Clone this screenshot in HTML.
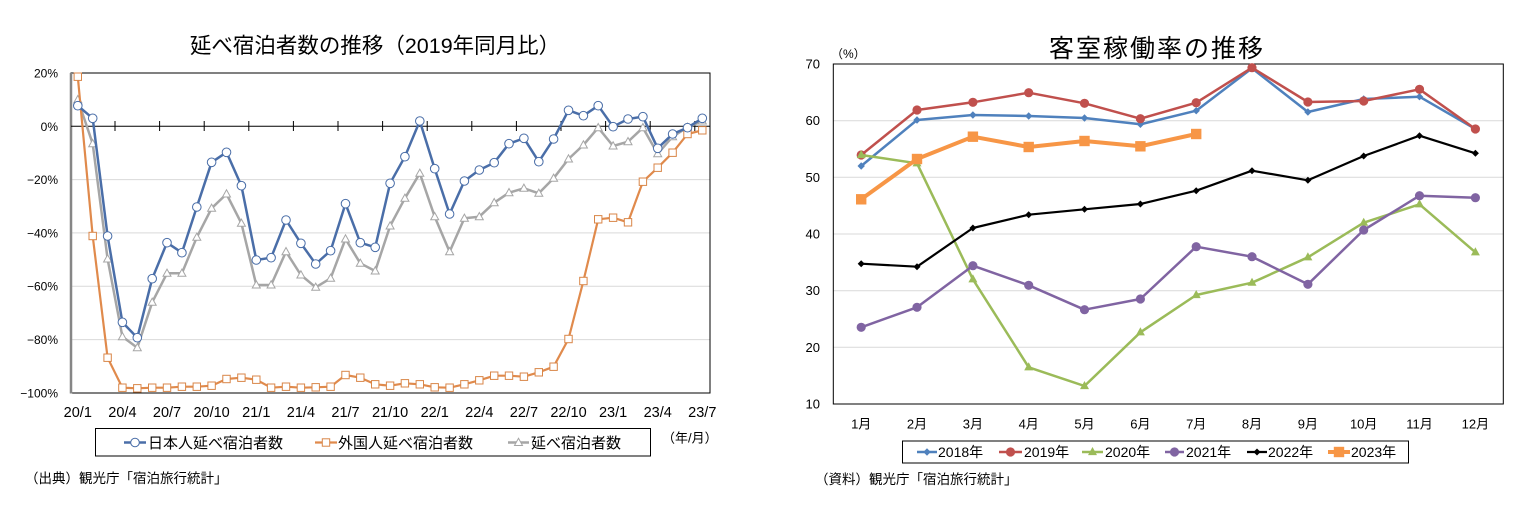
<!DOCTYPE html>
<html><head><meta charset="utf-8">
<style>
html,body{margin:0;padding:0;background:#fff;}
svg{display:block;}
text{font-family:"Liberation Sans","Noto Sans CJK JP",sans-serif;fill:#000;}
</style></head>
<body>
<svg width="1535" height="506" viewBox="0 0 1535 506" xmlns="http://www.w3.org/2000/svg">
<defs>
  <marker id="mc" markerUnits="userSpaceOnUse" markerWidth="12" markerHeight="12" refX="6" refY="6" overflow="visible"><circle cx="6" cy="6" r="4.3" fill="#fff" stroke="#4a6ea8" stroke-width="1"/></marker>
  <marker id="ms" markerUnits="userSpaceOnUse" markerWidth="12" markerHeight="12" refX="6" refY="6" overflow="visible"><rect x="2.3" y="2.3" width="7.4" height="7.4" fill="#fff" stroke="#d98648" stroke-width="1"/></marker>
  <marker id="mt" markerUnits="userSpaceOnUse" markerWidth="12" markerHeight="12" refX="6" refY="6" overflow="visible"><polygon points="6,1.8 10,9 2,9" fill="#fff" stroke="#a6a6a6" stroke-width="1"/></marker>
  <marker id="rd1" markerUnits="userSpaceOnUse" markerWidth="12" markerHeight="12" refX="6" refY="6" overflow="visible"><polygon points="6,2.3 9.7,6 6,9.7 2.3,6" fill="#4F81BD"/></marker>
  <marker id="rc2" markerUnits="userSpaceOnUse" markerWidth="12" markerHeight="12" refX="6" refY="6" overflow="visible"><circle cx="6" cy="6" r="4.6" fill="#C0504D"/></marker>
  <marker id="rt3" markerUnits="userSpaceOnUse" markerWidth="12" markerHeight="12" refX="6" refY="6.5" overflow="visible"><polygon points="6,1.5 10.5,9.6 1.5,9.6" fill="#9BBB59"/></marker>
  <marker id="rc4" markerUnits="userSpaceOnUse" markerWidth="12" markerHeight="12" refX="6" refY="6" overflow="visible"><circle cx="6" cy="6" r="4.6" fill="#8064A2"/></marker>
  <marker id="rd5" markerUnits="userSpaceOnUse" markerWidth="12" markerHeight="12" refX="6" refY="6" overflow="visible"><polygon points="6,2.5 9.5,6 6,9.5 2.5,6" fill="#000"/></marker>
  <marker id="rs6" markerUnits="userSpaceOnUse" markerWidth="12" markerHeight="12" refX="6" refY="6" overflow="visible"><rect x="0.8" y="0.8" width="10.4" height="10.4" fill="#F79646"/></marker>
</defs>

<!-- ================= LEFT CHART ================= -->
<text x="375" y="53" font-size="21.5" text-anchor="middle">延べ宿泊者数の推移（2019年同月比）</text>

<g stroke="#d9d9d9" stroke-width="1">
  <line x1="71" y1="179.6" x2="710" y2="179.6"/>
  <line x1="71" y1="232.9" x2="710" y2="232.9"/>
  <line x1="71" y1="286.2" x2="710" y2="286.2"/>
  <line x1="71" y1="339.6" x2="710" y2="339.6"/>
</g>
<rect x="71" y="73" width="639" height="320" fill="none" stroke="#000" stroke-width="1"/>
<line x1="71" y1="73" x2="71" y2="393.5" stroke="#868686" stroke-width="2.5"/>
<line x1="71" y1="126.3" x2="710" y2="126.3" stroke="#000" stroke-width="1"/>
<g stroke="#000" stroke-width="1">
  <line x1="115" y1="121" x2="115" y2="131"/>
  <line x1="159.6" y1="121" x2="159.6" y2="131"/>
  <line x1="204.2" y1="121" x2="204.2" y2="131"/>
  <line x1="248.8" y1="121" x2="248.8" y2="131"/>
  <line x1="293.4" y1="121" x2="293.4" y2="131"/>
  <line x1="338" y1="121" x2="338" y2="131"/>
  <line x1="382.6" y1="121" x2="382.6" y2="131"/>
  <line x1="427.2" y1="121" x2="427.2" y2="131"/>
  <line x1="471.8" y1="121" x2="471.8" y2="131"/>
  <line x1="516.4" y1="121" x2="516.4" y2="131"/>
  <line x1="561" y1="121" x2="561" y2="131"/>
  <line x1="605.6" y1="121" x2="605.6" y2="131"/>
  <line x1="650.2" y1="121" x2="650.2" y2="131"/>
  <line x1="694.8" y1="121" x2="694.8" y2="131"/>
</g>

<g font-size="12" text-anchor="end">
  <text x="58" y="77.5">20%</text>
  <text x="58" y="130.8">0%</text>
  <text x="58" y="184.1">−20%</text>
  <text x="58" y="237.4">−40%</text>
  <text x="58" y="290.7">−60%</text>
  <text x="58" y="344.1">−80%</text>
  <text x="58" y="397.4">−100%</text>
</g>
<g font-size="14.5" text-anchor="middle">
  <text x="77.8" y="417">20/1</text>
  <text x="122.4" y="417">20/4</text>
  <text x="167" y="417">20/7</text>
  <text x="211.6" y="417">20/10</text>
  <text x="256.3" y="417">21/1</text>
  <text x="300.9" y="417">21/4</text>
  <text x="345.5" y="417">21/7</text>
  <text x="390.1" y="417">21/10</text>
  <text x="434.7" y="417">22/1</text>
  <text x="479.3" y="417">22/4</text>
  <text x="523.9" y="417">22/7</text>
  <text x="568.5" y="417">22/10</text>
  <text x="613.1" y="417">23/1</text>
  <text x="657.7" y="417">23/4</text>
  <text x="702.3" y="417">23/7</text>
</g>

<polyline fill="none" stroke="#a6a6a6" stroke-width="2.5" stroke-linejoin="round" marker-start="url(#mt)" marker-mid="url(#mt)" marker-end="url(#mt)"
 points="77.8,99.7 92.7,143.7 107.6,259 122.4,336.7 137.3,347.7 152.2,302.3 167.0,273.3 181.9,273.3 196.8,237.3 211.6,208.3 226.5,194 241.4,223.3 256.3,285 271.1,285 286.0,251.7 300.9,275 315.7,287.3 330.6,278.3 345.5,239 360.3,263.3 375.2,271 390.1,226 404.9,198.3 419.8,173.3 434.7,216.7 449.6,251.7 464.4,218.3 479.3,216.7 494.2,202.7 509.0,192.7 523.9,188.3 538.8,193.3 553.6,178.3 568.5,159 583.4,145 598.2,127.7 613.1,146 628.0,141.7 642.9,127.7 657.7,153.7 672.6,136.7 687.5,127.3 702.3,121"/>
<polyline fill="none" stroke="#e08a4c" stroke-width="2.2" stroke-linejoin="round" marker-start="url(#ms)" marker-mid="url(#ms)" marker-end="url(#ms)"
 points="77.8,76.7 92.7,236 107.6,357.7 122.4,387.7 137.3,388.3 152.2,387.7 167.0,387.7 181.9,386.7 196.8,386.7 211.6,385.7 226.5,379 241.4,377.7 256.3,379.7 271.1,387.7 286.0,386.7 300.9,387.7 315.7,387.3 330.6,386.7 345.5,375 360.3,377.7 375.2,384.3 390.1,385.7 404.9,383.3 419.8,384.3 434.7,387.3 449.6,387.7 464.4,384.3 479.3,380.3 494.2,375.7 509.0,375.7 523.9,376.7 538.8,372.3 553.6,366.7 568.5,339 583.4,281 598.2,219.3 613.1,217.7 628.0,222.3 642.9,181.7 657.7,167.7 672.6,152.7 687.5,134 702.3,130.3"/>
<polyline fill="none" stroke="#4a6ea8" stroke-width="2.5" stroke-linejoin="round" marker-start="url(#mc)" marker-mid="url(#mc)" marker-end="url(#mc)"
 points="77.8,105.7 92.7,118.3 107.6,236 122.4,322.3 137.3,337.7 152.2,278.7 167.0,242.7 181.9,252.7 196.8,207 211.6,162.3 226.5,152.3 241.4,185.7 256.3,260 271.1,257.7 286.0,220 300.9,243.3 315.7,264 330.6,250.7 345.5,203.7 360.3,242.7 375.2,247.3 390.1,183.3 404.9,156.7 419.8,121 434.7,168.7 449.6,214 464.4,181 479.3,170 494.2,162.7 509.0,143.7 523.9,138.3 538.8,161.7 553.6,139 568.5,110.3 583.4,115.7 598.2,105.7 613.1,126.7 628.0,119 642.9,116.7 657.7,148.3 672.6,134 687.5,127.7 702.3,118.3"/>

<rect x="95.5" y="428.5" width="555" height="27.5" fill="#fff" stroke="#000" stroke-width="1"/>
<polyline points="124,442.5 135,442.5 146,442.5" fill="none" stroke="#4a6ea8" stroke-width="2.5" marker-mid="url(#mc)"/>
<text x="148" y="448" font-size="15">日本人延べ宿泊者数</text>
<polyline points="315,442.5 326,442.5 337,442.5" fill="none" stroke="#e08a4c" stroke-width="2.2" marker-mid="url(#ms)"/>
<text x="338" y="448" font-size="15">外国人延べ宿泊者数</text>
<polyline points="508,442.5 518.5,442.5 529,442.5" fill="none" stroke="#a6a6a6" stroke-width="2.5" marker-mid="url(#mt)"/>
<text x="531" y="448" font-size="15">延べ宿泊者数</text>
<text x="662" y="442.5" font-size="13">（年/月）</text>

<text x="25" y="483" font-size="13.5">（出典）観光庁「宿泊旅行統計」</text>

<!-- ================= RIGHT CHART ================= -->
<text x="1049" y="57" font-size="25" letter-spacing="2">客室稼働率の推移</text>
<text x="831" y="58" font-size="12">（%）</text>

<g stroke="#d9d9d9" stroke-width="1">
  <line x1="833.3" y1="120.7" x2="1503.3" y2="120.7"/>
  <line x1="833.3" y1="177.3" x2="1503.3" y2="177.3"/>
  <line x1="833.3" y1="234" x2="1503.3" y2="234"/>
  <line x1="833.3" y1="290.7" x2="1503.3" y2="290.7"/>
  <line x1="833.3" y1="347.3" x2="1503.3" y2="347.3"/>
</g>
<rect x="833.3" y="64" width="670" height="340" fill="none" stroke="#000" stroke-width="1"/>

<g font-size="13" text-anchor="end">
  <text x="820" y="68.5">70</text>
  <text x="820" y="125.2">60</text>
  <text x="820" y="181.8">50</text>
  <text x="820" y="238.5">40</text>
  <text x="820" y="295.2">30</text>
  <text x="820" y="351.8">20</text>
  <text x="820" y="408.5">10</text>
</g>
<g font-size="13" text-anchor="middle">
  <text x="861.2" y="428.5">1月</text>
  <text x="917.0" y="428.5">2月</text>
  <text x="972.9" y="428.5">3月</text>
  <text x="1028.7" y="428.5">4月</text>
  <text x="1084.5" y="428.5">5月</text>
  <text x="1140.4" y="428.5">6月</text>
  <text x="1196.2" y="428.5">7月</text>
  <text x="1252.0" y="428.5">8月</text>
  <text x="1307.9" y="428.5">9月</text>
  <text x="1363.7" y="428.5">10月</text>
  <text x="1419.5" y="428.5">11月</text>
  <text x="1475.4" y="428.5">12月</text>
</g>

<polyline fill="none" stroke="#4F81BD" stroke-width="2.5" stroke-linejoin="round" marker-start="url(#rd1)" marker-mid="url(#rd1)" marker-end="url(#rd1)"
 points="861.2,166 917.0,120 972.9,115 1028.7,116 1084.5,118 1140.4,124.3 1196.2,110.7 1252.0,68.3 1307.9,112 1363.7,99 1419.5,96.7 1475.4,129"/>
<polyline fill="none" stroke="#C0504D" stroke-width="2.5" stroke-linejoin="round" marker-start="url(#rc2)" marker-mid="url(#rc2)" marker-end="url(#rc2)"
 points="861.2,155 917.0,110 972.9,102.3 1028.7,92.7 1084.5,103.3 1140.4,118.7 1196.2,102.7 1252.0,67.7 1307.9,102 1363.7,101 1419.5,89.3 1475.4,129"/>
<polyline fill="none" stroke="#9BBB59" stroke-width="2.5" stroke-linejoin="round" marker-start="url(#rt3)" marker-mid="url(#rt3)" marker-end="url(#rt3)"
 points="861.2,155 917.0,163.3 972.9,279.3 1028.7,367.3 1084.5,386 1140.4,332.3 1196.2,295 1252.0,282.7 1307.9,257.3 1363.7,222.7 1419.5,204.3 1475.4,252.3"/>
<polyline fill="none" stroke="#8064A2" stroke-width="2.5" stroke-linejoin="round" marker-start="url(#rc4)" marker-mid="url(#rc4)" marker-end="url(#rc4)"
 points="861.2,327.3 917.0,307.3 972.9,265.7 1028.7,285.3 1084.5,309.7 1140.4,299 1196.2,246.7 1252.0,256.7 1307.9,284.3 1363.7,230 1419.5,195.7 1475.4,197.7"/>
<polyline fill="none" stroke="#000" stroke-width="2.2" stroke-linejoin="round" marker-start="url(#rd5)" marker-mid="url(#rd5)" marker-end="url(#rd5)"
 points="861.2,263.7 917.0,266.7 972.9,228 1028.7,214.7 1084.5,209.3 1140.4,204 1196.2,190.7 1252.0,170.7 1307.9,180.3 1363.7,156 1419.5,135.7 1475.4,153.3"/>
<polyline fill="none" stroke="#F79646" stroke-width="4" stroke-linejoin="round" marker-start="url(#rs6)" marker-mid="url(#rs6)" marker-end="url(#rs6)"
 points="861.2,199.3 917.0,159 972.9,136.7 1028.7,147 1084.5,141 1140.4,146.3 1196.2,134"/>

<rect x="902.5" y="441" width="506" height="22" fill="#fff" stroke="#000" stroke-width="1"/>
<polyline points="917,452 927,452 937,452" fill="none" stroke="#4F81BD" stroke-width="2.5" marker-mid="url(#rd1)"/>
<text x="938" y="457" font-size="14">2018年</text>
<polyline points="999,452 1010.5,452 1022,452" fill="none" stroke="#C0504D" stroke-width="2.5" marker-mid="url(#rc2)"/>
<text x="1024" y="457" font-size="14">2019年</text>
<polyline points="1082,452 1092.5,452 1103,452" fill="none" stroke="#9BBB59" stroke-width="2.5" marker-mid="url(#rt3)"/>
<text x="1105" y="457" font-size="14">2020年</text>
<polyline points="1165,452 1174.5,452 1184,452" fill="none" stroke="#8064A2" stroke-width="2.5" marker-mid="url(#rc4)"/>
<text x="1186" y="457" font-size="14">2021年</text>
<polyline points="1247,452 1257,452 1267,452" fill="none" stroke="#000" stroke-width="2.2" marker-mid="url(#rd5)"/>
<text x="1268" y="457" font-size="14">2022年</text>
<polyline points="1328,452 1339,452 1350,452" fill="none" stroke="#F79646" stroke-width="4" marker-mid="url(#rs6)"/>
<text x="1351" y="457" font-size="14">2023年</text>

<text x="815" y="484" font-size="13.5">（資料）観光庁「宿泊旅行統計」</text>
</svg>
</body></html>
